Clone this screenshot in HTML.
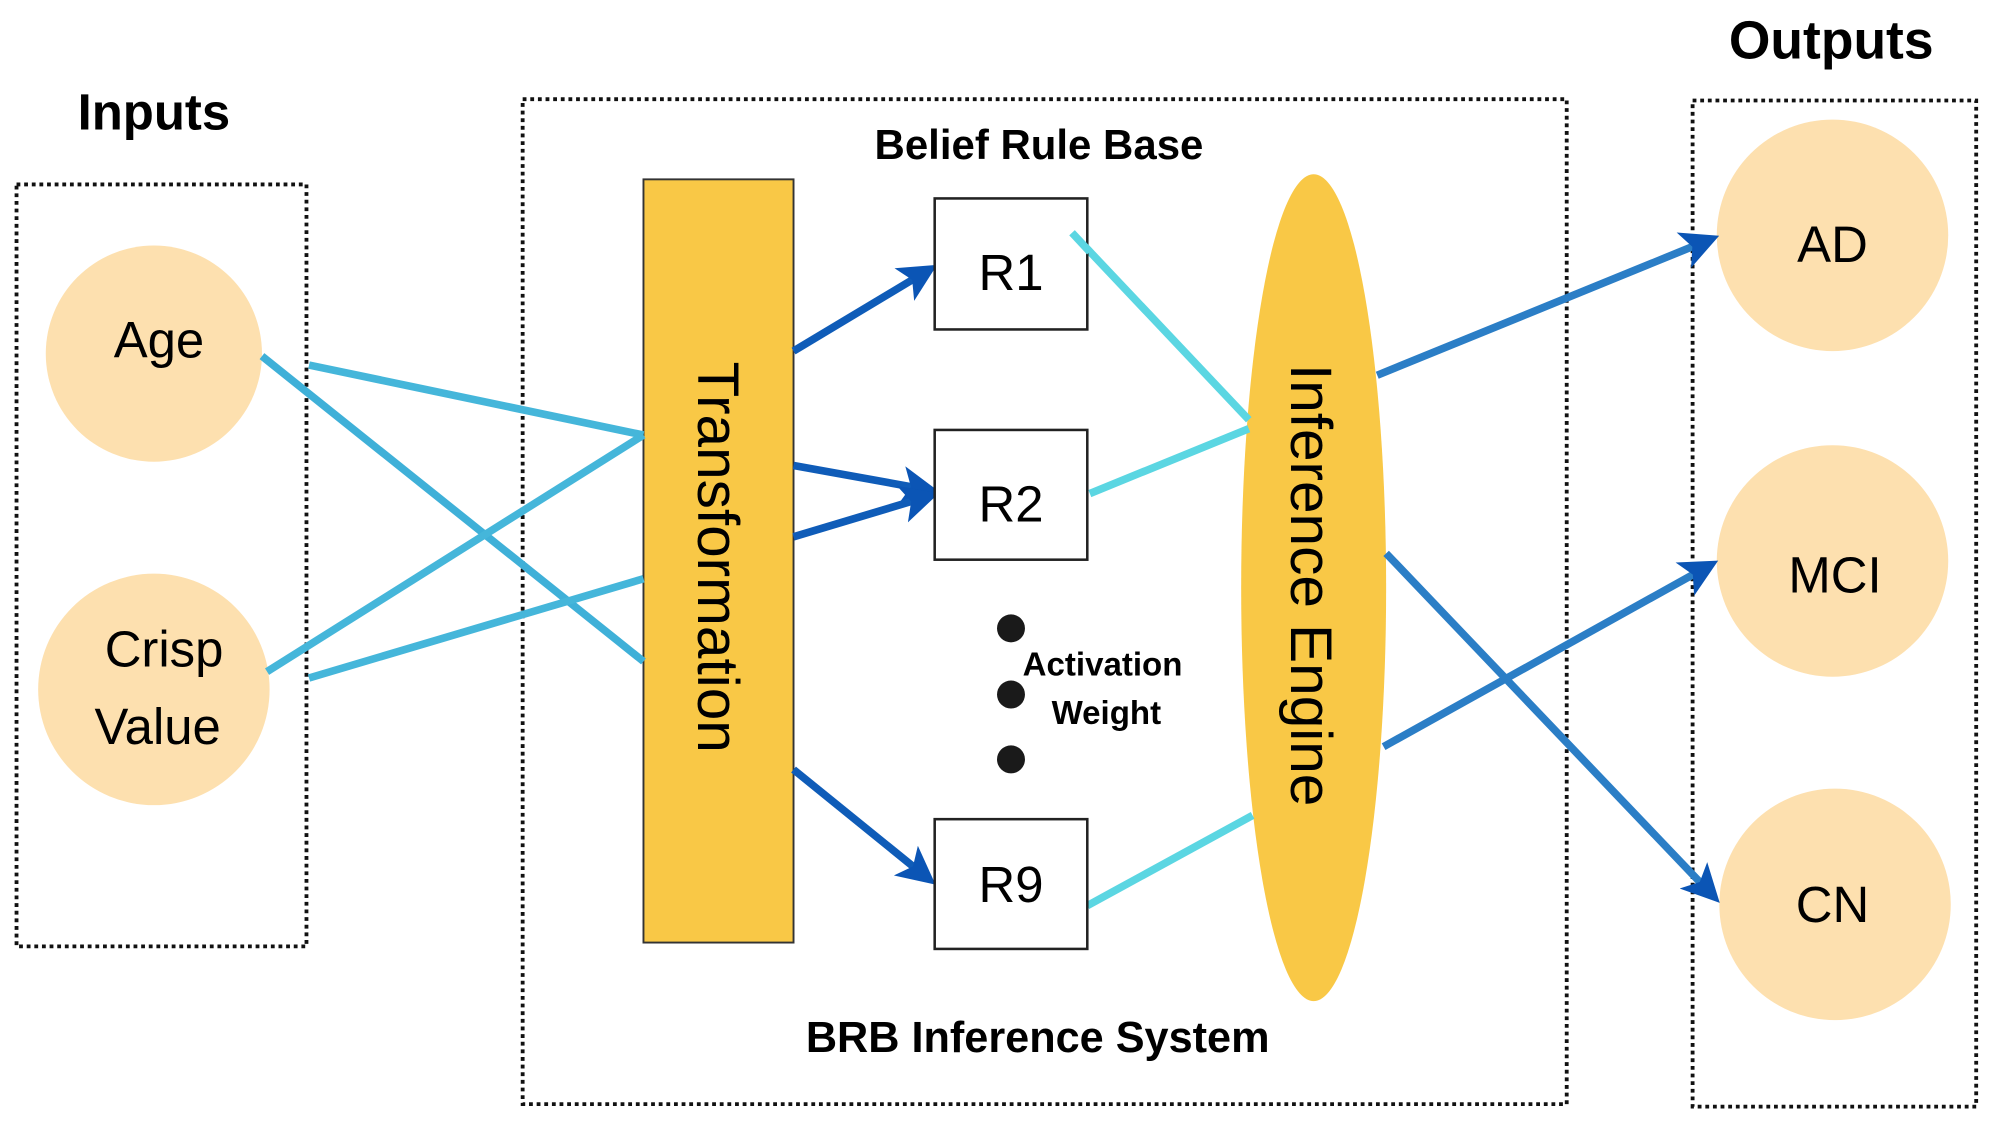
<!DOCTYPE html>
<html><head><meta charset="utf-8"><style>
html,body{margin:0;padding:0;background:#fff}
svg{display:block}
text{font-family:"Liberation Sans",sans-serif}
</style></head><body>
<svg width="1994" height="1127" viewBox="0 0 1568 886" preserveAspectRatio="none" xmlns="http://www.w3.org/2000/svg">
<defs>
<marker id="ah" markerWidth="5" markerHeight="5" refX="2.5" refY="2.5" orient="auto" markerUnits="strokeWidth"><path d="M0,0 L5,2.5 L0,5 L1.2,2.5 Z" fill="#0b55b5"/></marker>
</defs>
<rect width="1568" height="886" fill="#fff"/>
<g fill="none" stroke="#111" stroke-width="3" stroke-dasharray="3,3">
<rect x="13" y="145" width="228" height="599"/>
<rect x="411" y="78" width="821" height="790"/>
<rect x="1331" y="79" width="223" height="791"/>
</g>
<text x="121" y="102" font-size="40" font-weight="bold" text-anchor="middle">Inputs</text>
<text x="1440" y="46" font-size="42" font-weight="bold" text-anchor="middle">Outputs</text>
<text x="817" y="125" font-size="33" font-weight="bold" text-anchor="middle">Belief Rule Base</text>
<text x="816" y="827" font-size="34" font-weight="bold" text-anchor="middle">BRB Inference System</text>
<circle cx="121" cy="278" r="85" fill="#fde0af"/>
<circle cx="121" cy="542" r="91" fill="#fde0af"/>
<circle cx="1441" cy="185" r="91" fill="#fde0af"/>
<circle cx="1441" cy="441" r="91" fill="#fde0af"/>
<circle cx="1443" cy="711" r="91" fill="#fde0af"/>
<text x="125" y="281" font-size="40" text-anchor="middle">Age</text>
<text x="129" y="524" font-size="40" text-anchor="middle">Crisp</text>
<text x="124" y="585" font-size="40" text-anchor="middle">Value</text>
<text x="1441" y="206" font-size="40" text-anchor="middle">AD</text>
<text x="1443" y="466" font-size="40" text-anchor="middle">MCI</text>
<text x="1441" y="725" font-size="40" text-anchor="middle">CN</text>
<rect x="506" y="141" width="118" height="600" fill="#f9c846" stroke="#333" stroke-width="1.5"/>
<ellipse cx="1033" cy="462" rx="57" ry="325" fill="#f9c846"/>
<g fill="none" stroke-width="6">
<line x1="206" y1="280" x2="506" y2="520" stroke="#3fb0d8"/>
<line x1="243" y1="287" x2="506" y2="342" stroke="#45b6da"/>
<line x1="210" y1="528" x2="506" y2="342" stroke="#45b6da"/>
<line x1="243" y1="533" x2="506" y2="455" stroke="#45b6da"/>
<line x1="843" y1="183" x2="982" y2="330" stroke="#5bd6e2"/>
<line x1="857" y1="388" x2="982" y2="337" stroke="#5bd6e2"/>
<line x1="855" y1="712" x2="985" y2="641" stroke="#5bd6e2"/>
</g>
<g fill="none" stroke-width="6" stroke="#0f5cb8" marker-end="url(#ah)">
<line x1="624" y1="276" x2="724" y2="216"/>
<line x1="624" y1="366" x2="724" y2="384"/>
<line x1="624" y1="422" x2="724" y2="392"/>
<line x1="624" y1="605" x2="724" y2="686"/>
<line x1="1083" y1="295" x2="1338" y2="191" stroke="#2b7ec6"/>
<line x1="1088" y1="587" x2="1338" y2="448" stroke="#2b7ec6"/>
<line x1="1090" y1="435" x2="1342" y2="699" stroke="#2b7ec6"/>
</g>
<g fill="#fff" stroke="#222" stroke-width="2">
<rect x="735" y="156" width="120" height="103"/>
<rect x="735" y="338" width="120" height="102"/>
<rect x="735" y="644" width="120" height="102"/>
</g>
<line x1="843" y1="183" x2="857" y2="198" stroke="#5bd6e2" stroke-width="6"/>
<text x="795" y="228" font-size="40" text-anchor="middle">R1</text>
<text x="795" y="410" font-size="40" text-anchor="middle">R2</text>
<text x="795" y="709" font-size="40" text-anchor="middle">R9</text>
<circle cx="795" cy="494" r="11" fill="#1a1a1a"/>
<circle cx="795" cy="546" r="11" fill="#1a1a1a"/>
<circle cx="795" cy="597" r="11" fill="#1a1a1a"/>
<text x="867" y="531" font-size="26" font-weight="bold" text-anchor="middle">Activation</text>
<text x="870" y="569" font-size="26" font-weight="bold" text-anchor="middle">Weight</text>
<text transform="translate(549,438) rotate(90)" font-size="46" text-anchor="middle">Transformation</text>
<text transform="translate(1015,460) rotate(90)" font-size="46" text-anchor="middle">Inference Engine</text>
</svg>
</body></html>
